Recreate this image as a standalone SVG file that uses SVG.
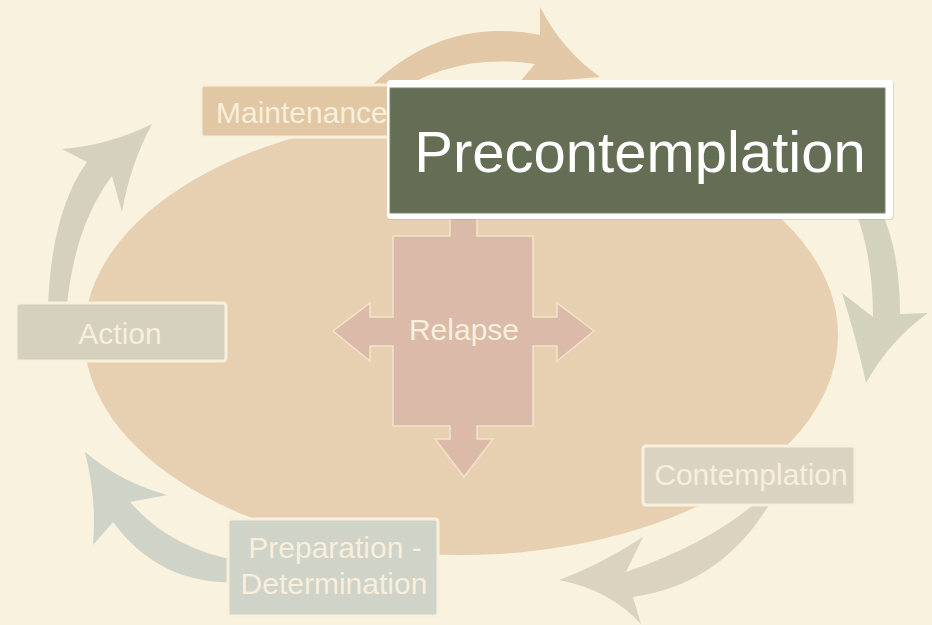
<svg xmlns="http://www.w3.org/2000/svg" width="932" height="625" viewBox="0 0 932 625">
  <style>
    .lbl { font-family: "Liberation Sans", Arial, sans-serif; font-size: 30px; fill: #F7EFDB; }
    .box { stroke: #F8F0DB; stroke-width: 3; }
    .arrow { stroke: none; }
  </style>

  <!-- backdrop -->
  <rect x="0" y="0" width="932" height="625" fill="#F8F2DE"/>

  <!-- central cycle body -->
  <ellipse id="cycle-body" cx="461" cy="335" rx="377" ry="220" fill="#E7D0B2"/>

  <!-- curved cycle arrows -->
  <g id="connectors">
    <path class="arrow" fill="#E2C8A6" d="M 365,92 Q 440,15 540,35 L 540,7 Q 562,50 600,77 Q 560,80 518,84 L 535,64 Q 455,52 392,95 Z"/>
    <path class="arrow" fill="#D3D2BC" d="M 857,215 Q 873,260 873,317 L 842,293 Q 858,345 866,383 Q 890,340 928,313 L 900,314 Q 900,255 883,215 Z"/>
    <path class="arrow" fill="#DBD3C0" d="M 753,505 Q 705,545 626,572 L 643,537 Q 600,565 559,580 Q 610,590 641,624 L 633,597 Q 720,585 769,505 Z"/>
    <path class="arrow" fill="#CFD3C8" d="M 235,560 Q 170,548 130,502 L 167,495 Q 120,482 85,452 Q 97,500 93,545 L 113,522 Q 160,585 235,582 Z"/>
    <path class="arrow" fill="#D6D0BE" d="M 48,305 Q 52,210 87,162 L 62,149 Q 110,145 152,124 Q 130,165 122,212 L 112,176 Q 75,225 67,305 Z"/>
  </g>

  <!-- relapse cross -->
  <g id="relapse">
    <path fill="#DBBAA9" stroke="#F2E3C9" stroke-width="1.5" stroke-linejoin="miter"
          d="M 450,215 L 477,215 L 477,236 L 533,236 L 533,317 L 557,317 L 557,303 L 594,331 L 557,361 L 557,346 L 533,346 L 533,426 L 477,426 L 477,439 L 493,439 L 464,477 L 435,439 L 450,439 L 450,426 L 393,426 L 393,346 L 370,346 L 370,361 L 333,331 L 370,303 L 370,317 L 393,317 L 393,236 L 450,236 Z"/>
    <text class="lbl" x="464" y="340" text-anchor="middle" fill="#F5E9D3">Relapse</text>
  </g>

  <!-- stage boxes -->
  <g id="maintenance">
    <rect class="box" x="201" y="85" width="200" height="52" rx="3" fill="#E2C7A5"/>
    <text class="lbl" x="216" y="123">Maintenance</text>
  </g>

  <g id="action">
    <rect class="box" x="16" y="303" width="210" height="58" rx="3" fill="#D6D0BF"/>
    <text class="lbl" x="120" y="344" text-anchor="middle">Action</text>
  </g>

  <g id="contemplation">
    <rect class="box" x="643" y="446" width="212" height="59" rx="3" fill="#DBD3C2"/>
    <text class="lbl" x="751" y="485" text-anchor="middle">Contemplation</text>
  </g>

  <g id="preparation">
    <rect class="box" x="228" y="519" width="210" height="97" rx="3" fill="#D0D3C8"/>
    <text class="lbl" x="335" y="558" text-anchor="middle">Preparation -</text>
    <text class="lbl" x="334" y="594" text-anchor="middle">Determination</text>
  </g>

  <g id="precontemplation">
    <rect x="388" y="81" width="506" height="139" rx="4" fill="#8C8C80" opacity="0.25"/>
    <rect x="387" y="80" width="506" height="139" rx="4" fill="#FFFFFF"/>
    <rect x="390" y="88" width="495" height="125" fill="#636E55" stroke="#7E8670" stroke-width="1"/>
    <text x="640" y="172" text-anchor="middle" font-family="'Liberation Sans', Arial, sans-serif" font-size="58" fill="#FFFFFF">Precontemplation</text>
  </g>
</svg>
